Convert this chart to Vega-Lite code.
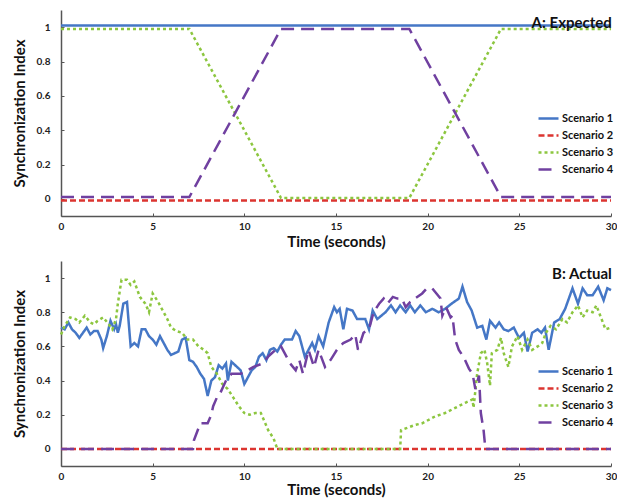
{
  "$schema": "https://vega.github.io/schema/vega-lite/v6.json",
  "padding": {"left": 12, "top": 10, "right": 0, "bottom": 0},
  "spacing": 12,
  "config": {
    "font": "Lato",
    "view": {"stroke": null},
    "axis": {
      "grid": false,
      "domainColor": "#555555",
      "domainWidth": 1.5,
      "tickColor": "#555555",
      "tickSize": -3,
      "labelFontSize": 10,
      "labelFontWeight": "bold",
      "labelColor": "#222222",
      "labelPadding": 8,
      "labelFlush": false,
      "format": "~g",
      "titleFontSize": 15,
      "titleFontWeight": "bold",
      "titleColor": "#111111"
    },
    "axisY": {"labelPadding": 14},
    "title": {"fontSize": 15, "fontWeight": "bold", "color": "#111111", "anchor": "end", "offset": -21, "dx": -5}
  },
  "datasets": {
    "a": [
      {"s": "Scenario 1", "t": 0, "v": 1.01}, {"s": "Scenario 1", "t": 30, "v": 1.01},
      {"s": "Scenario 2", "t": 0, "v": -0.01}, {"s": "Scenario 2", "t": 30, "v": -0.01},
      {"s": "Scenario 3", "t": 0, "v": 0.99}, {"s": "Scenario 3", "t": 7, "v": 0.99}, {"s": "Scenario 3", "t": 12, "v": 0.005}, {"s": "Scenario 3", "t": 19, "v": 0.005}, {"s": "Scenario 3", "t": 24, "v": 0.99}, {"s": "Scenario 3", "t": 30, "v": 0.99},
      {"s": "Scenario 4", "t": 0, "v": 0.01}, {"s": "Scenario 4", "t": 7, "v": 0.01}, {"s": "Scenario 4", "t": 12, "v": 0.99}, {"s": "Scenario 4", "t": 19, "v": 0.99}, {"s": "Scenario 4", "t": 24, "v": 0.01}, {"s": "Scenario 4", "t": 30, "v": 0.01}
    ],
    "b": [
      {"s":"Scenario 1","t":0,"v":0.71},{"s":"Scenario 1","t":0.2,"v":0.70},{"s":"Scenario 1","t":0.4,"v":0.74},{"s":"Scenario 1","t":0.6,"v":0.70},{"s":"Scenario 1","t":0.8,"v":0.68},{"s":"Scenario 1","t":1.0,"v":0.65},{"s":"Scenario 1","t":1.2,"v":0.68},{"s":"Scenario 1","t":1.4,"v":0.71},{"s":"Scenario 1","t":1.6,"v":0.67},{"s":"Scenario 1","t":1.8,"v":0.69},{"s":"Scenario 1","t":2.0,"v":0.69},{"s":"Scenario 1","t":2.2,"v":0.64},{"s":"Scenario 1","t":2.3,"v":0.59},{"s":"Scenario 1","t":2.5,"v":0.66},{"s":"Scenario 1","t":2.7,"v":0.75},{"s":"Scenario 1","t":2.9,"v":0.70},{"s":"Scenario 1","t":3.0,"v":0.73},{"s":"Scenario 1","t":3.1,"v":0.68},{"s":"Scenario 1","t":3.2,"v":0.72},{"s":"Scenario 1","t":3.4,"v":0.85},{"s":"Scenario 1","t":3.6,"v":0.86},{"s":"Scenario 1","t":3.8,"v":0.60},{"s":"Scenario 1","t":4.0,"v":0.62},{"s":"Scenario 1","t":4.2,"v":0.60},{"s":"Scenario 1","t":4.4,"v":0.70},{"s":"Scenario 1","t":4.6,"v":0.70},{"s":"Scenario 1","t":4.8,"v":0.66},{"s":"Scenario 1","t":5.0,"v":0.64},{"s":"Scenario 1","t":5.2,"v":0.61},{"s":"Scenario 1","t":5.4,"v":0.66},{"s":"Scenario 1","t":5.6,"v":0.62},{"s":"Scenario 1","t":5.8,"v":0.58},{"s":"Scenario 1","t":6.0,"v":0.55},{"s":"Scenario 1","t":6.2,"v":0.56},{"s":"Scenario 1","t":6.4,"v":0.57},{"s":"Scenario 1","t":6.6,"v":0.64},{"s":"Scenario 1","t":6.8,"v":0.65},{"s":"Scenario 1","t":7.0,"v":0.52},{"s":"Scenario 1","t":7.2,"v":0.51},{"s":"Scenario 1","t":7.4,"v":0.48},{"s":"Scenario 1","t":7.6,"v":0.44},{"s":"Scenario 1","t":7.8,"v":0.41},{"s":"Scenario 1","t":8.0,"v":0.31},{"s":"Scenario 1","t":8.2,"v":0.40},{"s":"Scenario 1","t":8.4,"v":0.42},{"s":"Scenario 1","t":8.6,"v":0.49},{"s":"Scenario 1","t":8.8,"v":0.47},{"s":"Scenario 1","t":9.0,"v":0.50},{"s":"Scenario 1","t":9.1,"v":0.40},{"s":"Scenario 1","t":9.3,"v":0.51},{"s":"Scenario 1","t":9.6,"v":0.48},{"s":"Scenario 1","t":9.8,"v":0.46},{"s":"Scenario 1","t":10.0,"v":0.38},{"s":"Scenario 1","t":10.2,"v":0.42},{"s":"Scenario 1","t":10.4,"v":0.46},{"s":"Scenario 1","t":10.6,"v":0.48},{"s":"Scenario 1","t":10.8,"v":0.54},{"s":"Scenario 1","t":11.0,"v":0.56},{"s":"Scenario 1","t":11.2,"v":0.52},{"s":"Scenario 1","t":11.4,"v":0.58},{"s":"Scenario 1","t":11.6,"v":0.59},{"s":"Scenario 1","t":11.8,"v":0.57},{"s":"Scenario 1","t":12.0,"v":0.61},{"s":"Scenario 1","t":12.2,"v":0.64},{"s":"Scenario 1","t":12.6,"v":0.64},{"s":"Scenario 1","t":12.8,"v":0.69},{"s":"Scenario 1","t":13.0,"v":0.66},{"s":"Scenario 1","t":13.3,"v":0.54},{"s":"Scenario 1","t":13.7,"v":0.62},{"s":"Scenario 1","t":13.85,"v":0.58},{"s":"Scenario 1","t":14.05,"v":0.66},{"s":"Scenario 1","t":14.3,"v":0.60},{"s":"Scenario 1","t":14.6,"v":0.74},{"s":"Scenario 1","t":14.9,"v":0.83},{"s":"Scenario 1","t":15.05,"v":0.80},{"s":"Scenario 1","t":15.2,"v":0.82},{"s":"Scenario 1","t":15.4,"v":0.70},{"s":"Scenario 1","t":15.6,"v":0.82},{"s":"Scenario 1","t":15.9,"v":0.81},{"s":"Scenario 1","t":16.15,"v":0.76},{"s":"Scenario 1","t":16.6,"v":0.76},{"s":"Scenario 1","t":16.8,"v":0.70},{"s":"Scenario 1","t":17.0,"v":0.81},{"s":"Scenario 1","t":17.25,"v":0.76},{"s":"Scenario 1","t":17.7,"v":0.80},{"s":"Scenario 1","t":18.0,"v":0.84},{"s":"Scenario 1","t":18.25,"v":0.80},{"s":"Scenario 1","t":18.5,"v":0.84},{"s":"Scenario 1","t":18.8,"v":0.80},{"s":"Scenario 1","t":19.05,"v":0.84},{"s":"Scenario 1","t":19.3,"v":0.80},{"s":"Scenario 1","t":19.6,"v":0.84},{"s":"Scenario 1","t":19.9,"v":0.80},{"s":"Scenario 1","t":20.25,"v":0.82},{"s":"Scenario 1","t":20.6,"v":0.80},{"s":"Scenario 1","t":20.95,"v":0.82},{"s":"Scenario 1","t":21.3,"v":0.85},{"s":"Scenario 1","t":21.7,"v":0.88},{"s":"Scenario 1","t":21.9,"v":0.95},{"s":"Scenario 1","t":22.15,"v":0.86},{"s":"Scenario 1","t":22.4,"v":0.81},{"s":"Scenario 1","t":22.7,"v":0.71},{"s":"Scenario 1","t":22.98,"v":0.72},{"s":"Scenario 1","t":23.2,"v":0.64},{"s":"Scenario 1","t":23.4,"v":0.75},{"s":"Scenario 1","t":23.7,"v":0.71},{"s":"Scenario 1","t":23.9,"v":0.74},{"s":"Scenario 1","t":24.15,"v":0.70},{"s":"Scenario 1","t":24.4,"v":0.69},{"s":"Scenario 1","t":24.7,"v":0.71},{"s":"Scenario 1","t":24.98,"v":0.65},{"s":"Scenario 1","t":25.25,"v":0.68},{"s":"Scenario 1","t":25.45,"v":0.57},{"s":"Scenario 1","t":25.7,"v":0.68},{"s":"Scenario 1","t":26.0,"v":0.70},{"s":"Scenario 1","t":26.2,"v":0.68},{"s":"Scenario 1","t":26.4,"v":0.71},{"s":"Scenario 1","t":26.6,"v":0.58},{"s":"Scenario 1","t":26.9,"v":0.74},{"s":"Scenario 1","t":27.2,"v":0.76},{"s":"Scenario 1","t":27.5,"v":0.82},{"s":"Scenario 1","t":27.9,"v":0.94},{"s":"Scenario 1","t":28.2,"v":0.85},{"s":"Scenario 1","t":28.45,"v":0.94},{"s":"Scenario 1","t":28.7,"v":0.90},{"s":"Scenario 1","t":29.0,"v":0.90},{"s":"Scenario 1","t":29.3,"v":0.95},{"s":"Scenario 1","t":29.6,"v":0.87},{"s":"Scenario 1","t":29.8,"v":0.94},{"s":"Scenario 1","t":30,"v":0.93},
      {"s":"Scenario 2","t":0,"v":0},{"s":"Scenario 2","t":30,"v":0},
      {"s":"Scenario 3","t":0,"v":0.67},{"s":"Scenario 3","t":0.2,"v":0.72},{"s":"Scenario 3","t":0.5,"v":0.77},{"s":"Scenario 3","t":0.8,"v":0.76},{"s":"Scenario 3","t":1.0,"v":0.74},{"s":"Scenario 3","t":1.3,"v":0.78},{"s":"Scenario 3","t":1.6,"v":0.74},{"s":"Scenario 3","t":1.8,"v":0.73},{"s":"Scenario 3","t":2.0,"v":0.75},{"s":"Scenario 3","t":2.3,"v":0.77},{"s":"Scenario 3","t":2.6,"v":0.73},{"s":"Scenario 3","t":2.8,"v":0.70},{"s":"Scenario 3","t":3.0,"v":0.76},{"s":"Scenario 3","t":3.1,"v":0.85},{"s":"Scenario 3","t":3.3,"v":0.99},{"s":"Scenario 3","t":3.6,"v":0.99},{"s":"Scenario 3","t":3.8,"v":0.96},{"s":"Scenario 3","t":4.0,"v":0.98},{"s":"Scenario 3","t":4.3,"v":0.89},{"s":"Scenario 3","t":4.6,"v":0.85},{"s":"Scenario 3","t":4.8,"v":0.80},{"s":"Scenario 3","t":5.0,"v":0.91},{"s":"Scenario 3","t":5.3,"v":0.86},{"s":"Scenario 3","t":5.6,"v":0.80},{"s":"Scenario 3","t":5.8,"v":0.76},{"s":"Scenario 3","t":6.0,"v":0.71},{"s":"Scenario 3","t":6.3,"v":0.69},{"s":"Scenario 3","t":6.6,"v":0.68},{"s":"Scenario 3","t":6.9,"v":0.64},{"s":"Scenario 3","t":7.2,"v":0.64},{"s":"Scenario 3","t":7.5,"v":0.60},{"s":"Scenario 3","t":7.8,"v":0.58},{"s":"Scenario 3","t":8.0,"v":0.56},{"s":"Scenario 3","t":8.2,"v":0.48},{"s":"Scenario 3","t":8.5,"v":0.44},{"s":"Scenario 3","t":8.8,"v":0.38},{"s":"Scenario 3","t":9.1,"v":0.35},{"s":"Scenario 3","t":9.4,"v":0.30},{"s":"Scenario 3","t":9.7,"v":0.25},{"s":"Scenario 3","t":10.0,"v":0.21},{"s":"Scenario 3","t":10.3,"v":0.20},{"s":"Scenario 3","t":10.6,"v":0.21},{"s":"Scenario 3","t":10.9,"v":0.21},{"s":"Scenario 3","t":11.1,"v":0.16},{"s":"Scenario 3","t":11.3,"v":0.11},{"s":"Scenario 3","t":11.6,"v":0.06},{"s":"Scenario 3","t":11.8,"v":0},{"s":"Scenario 3","t":18.5,"v":0},{"s":"Scenario 3","t":18.55,"v":0.11},{"s":"Scenario 3","t":18.8,"v":0.12},{"s":"Scenario 3","t":19.3,"v":0.14},{"s":"Scenario 3","t":19.7,"v":0.15},{"s":"Scenario 3","t":20.4,"v":0.19},{"s":"Scenario 3","t":20.95,"v":0.21},{"s":"Scenario 3","t":21.5,"v":0.24},{"s":"Scenario 3","t":22.05,"v":0.27},{"s":"Scenario 3","t":22.45,"v":0.29},{"s":"Scenario 3","t":22.5,"v":0.24},{"s":"Scenario 3","t":22.7,"v":0.44},{"s":"Scenario 3","t":22.9,"v":0.56},{"s":"Scenario 3","t":23.1,"v":0.58},{"s":"Scenario 3","t":23.25,"v":0.50},{"s":"Scenario 3","t":23.4,"v":0.37},{"s":"Scenario 3","t":23.5,"v":0.56},{"s":"Scenario 3","t":23.8,"v":0.58},{"s":"Scenario 3","t":24.0,"v":0.65},{"s":"Scenario 3","t":24.15,"v":0.56},{"s":"Scenario 3","t":24.4,"v":0.48},{"s":"Scenario 3","t":24.6,"v":0.60},{"s":"Scenario 3","t":24.9,"v":0.66},{"s":"Scenario 3","t":25.15,"v":0.58},{"s":"Scenario 3","t":25.45,"v":0.64},{"s":"Scenario 3","t":25.7,"v":0.58},{"s":"Scenario 3","t":26.0,"v":0.60},{"s":"Scenario 3","t":26.25,"v":0.62},{"s":"Scenario 3","t":26.45,"v":0.68},{"s":"Scenario 3","t":26.7,"v":0.72},{"s":"Scenario 3","t":27.0,"v":0.70},{"s":"Scenario 3","t":27.35,"v":0.76},{"s":"Scenario 3","t":27.6,"v":0.74},{"s":"Scenario 3","t":27.9,"v":0.80},{"s":"Scenario 3","t":28.2,"v":0.84},{"s":"Scenario 3","t":28.45,"v":0.77},{"s":"Scenario 3","t":28.7,"v":0.81},{"s":"Scenario 3","t":29.0,"v":0.80},{"s":"Scenario 3","t":29.2,"v":0.84},{"s":"Scenario 3","t":29.45,"v":0.77},{"s":"Scenario 3","t":29.7,"v":0.70},{"s":"Scenario 3","t":30,"v":0.71},
      {"s":"Scenario 4","t":0,"v":0},{"s":"Scenario 4","t":7.2,"v":0},{"s":"Scenario 4","t":7.25,"v":0.05},{"s":"Scenario 4","t":7.6,"v":0.15},{"s":"Scenario 4","t":8.0,"v":0.15},{"s":"Scenario 4","t":8.2,"v":0.20},{"s":"Scenario 4","t":8.3,"v":0.25},{"s":"Scenario 4","t":8.5,"v":0.30},{"s":"Scenario 4","t":8.7,"v":0.33},{"s":"Scenario 4","t":9.0,"v":0.40},{"s":"Scenario 4","t":9.3,"v":0.44},{"s":"Scenario 4","t":9.8,"v":0.44},{"s":"Scenario 4","t":10.0,"v":0.45},{"s":"Scenario 4","t":10.5,"v":0.48},{"s":"Scenario 4","t":11.0,"v":0.50},{"s":"Scenario 4","t":11.3,"v":0.54},{"s":"Scenario 4","t":11.6,"v":0.57},{"s":"Scenario 4","t":12.0,"v":0.60},{"s":"Scenario 4","t":12.5,"v":0.50},{"s":"Scenario 4","t":12.8,"v":0.46},{"s":"Scenario 4","t":13.0,"v":0.52},{"s":"Scenario 4","t":13.2,"v":0.44},{"s":"Scenario 4","t":13.5,"v":0.58},{"s":"Scenario 4","t":13.8,"v":0.48},{"s":"Scenario 4","t":14.05,"v":0.58},{"s":"Scenario 4","t":14.4,"v":0.48},{"s":"Scenario 4","t":14.7,"v":0.52},{"s":"Scenario 4","t":15.05,"v":0.58},{"s":"Scenario 4","t":15.4,"v":0.62},{"s":"Scenario 4","t":15.8,"v":0.64},{"s":"Scenario 4","t":16.05,"v":0.67},{"s":"Scenario 4","t":16.2,"v":0.58},{"s":"Scenario 4","t":16.5,"v":0.68},{"s":"Scenario 4","t":16.8,"v":0.70},{"s":"Scenario 4","t":17.05,"v":0.80},{"s":"Scenario 4","t":17.35,"v":0.85},{"s":"Scenario 4","t":17.6,"v":0.88},{"s":"Scenario 4","t":17.8,"v":0.85},{"s":"Scenario 4","t":18.1,"v":0.89},{"s":"Scenario 4","t":18.35,"v":0.88},{"s":"Scenario 4","t":18.6,"v":0.88},{"s":"Scenario 4","t":18.8,"v":0.83},{"s":"Scenario 4","t":19.05,"v":0.86},{"s":"Scenario 4","t":19.3,"v":0.88},{"s":"Scenario 4","t":19.7,"v":0.91},{"s":"Scenario 4","t":19.95,"v":0.94},{"s":"Scenario 4","t":20.25,"v":0.94},{"s":"Scenario 4","t":20.4,"v":0.92},{"s":"Scenario 4","t":20.7,"v":0.88},{"s":"Scenario 4","t":20.8,"v":0.78},{"s":"Scenario 4","t":21.0,"v":0.83},{"s":"Scenario 4","t":21.25,"v":0.77},{"s":"Scenario 4","t":21.35,"v":0.78},{"s":"Scenario 4","t":21.5,"v":0.64},{"s":"Scenario 4","t":21.7,"v":0.58},{"s":"Scenario 4","t":22.0,"v":0.53},{"s":"Scenario 4","t":22.25,"v":0.47},{"s":"Scenario 4","t":22.45,"v":0.44},{"s":"Scenario 4","t":22.6,"v":0.35},{"s":"Scenario 4","t":22.8,"v":0.43},{"s":"Scenario 4","t":22.9,"v":0.21},{"s":"Scenario 4","t":23.05,"v":0.11},{"s":"Scenario 4","t":23.15,"v":0},{"s":"Scenario 4","t":30,"v":0}
    ]
  },
  "vconcat": [
    {
      "width": 550,
      "height": 206,
      "data": {"name": "a"},
      "title": {"text": "A: Expected"},
      "mark": {"type": "line", "strokeWidth": 2.5, "strokeCap": "butt"},
      "encoding": {
        "x": {"field": "t", "type": "quantitative", "scale": {"domain": [0, 30], "nice": false}, "axis": {"values": [0, 5, 10, 15, 20, 25, 30], "title": "Time (seconds)", "titlePadding": 3}},
        "y": {"field": "v", "type": "quantitative", "scale": {"domain": [-0.1, 1.1], "nice": false}, "axis": {"values": [0, 0.2, 0.4, 0.6, 0.8, 1], "title": "Synchronization Index", "titlePadding": 9}},
        "color": {"field": "s", "type": "nominal", "scale": {"domain": ["Scenario 1", "Scenario 2", "Scenario 3", "Scenario 4"], "range": ["#4577c6", "#dc3530", "#8cc63f", "#7040a0"]},
          "legend": {"title": null, "orient": "none", "legendX": 476, "legendY": 97, "symbolType": "stroke", "symbolSize": 400, "symbolStrokeWidth": 2.5, "labelFontSize": 11, "labelFontWeight": "bold", "labelColor": "#111111", "labelOffset": 2, "rowPadding": -7.5}},
        "strokeDash": {"field": "s", "type": "nominal", "scale": {"domain": ["Scenario 1", "Scenario 2", "Scenario 3", "Scenario 4"], "range": [[1, 0], [6, 3], [3, 3], [13, 7]]},
          "legend": {"title": null, "orient": "none", "legendX": 476, "legendY": 97, "symbolType": "stroke", "symbolSize": 400, "symbolStrokeWidth": 2.5, "labelFontSize": 11, "labelFontWeight": "bold", "labelColor": "#111111", "labelOffset": 2, "rowPadding": -7.5}}
      }
    },
    {
      "width": 550,
      "height": 205,
      "data": {"name": "b"},
      "title": {"text": "B: Actual"},
      "mark": {"type": "line", "strokeWidth": 2.5, "strokeCap": "butt"},
      "encoding": {
        "x": {"field": "t", "type": "quantitative", "scale": {"domain": [0, 30], "nice": false}, "axis": {"values": [0, 5, 10, 15, 20, 25, 30], "title": "Time (seconds)", "titlePadding": 1.5}},
        "y": {"field": "v", "type": "quantitative", "scale": {"domain": [-0.1, 1.1], "nice": false}, "axis": {"values": [0, 0.2, 0.4, 0.6, 0.8, 1], "title": "Synchronization Index", "titlePadding": 9}},
        "color": {"field": "s", "type": "nominal", "scale": {"domain": ["Scenario 1", "Scenario 2", "Scenario 3", "Scenario 4"], "range": ["#4577c6", "#dc3530", "#8cc63f", "#7040a0"]},
          "legend": {"title": null, "orient": "none", "legendX": 476, "legendY": 99, "symbolType": "stroke", "symbolSize": 400, "symbolStrokeWidth": 2.5, "labelFontSize": 11, "labelFontWeight": "bold", "labelColor": "#111111", "labelOffset": 2, "rowPadding": -7.5}},
        "strokeDash": {"field": "s", "type": "nominal", "scale": {"domain": ["Scenario 1", "Scenario 2", "Scenario 3", "Scenario 4"], "range": [[1, 0], [6, 3], [3, 3], [13, 7]]},
          "legend": {"title": null, "orient": "none", "legendX": 476, "legendY": 99, "symbolType": "stroke", "symbolSize": 400, "symbolStrokeWidth": 2.5, "labelFontSize": 11, "labelFontWeight": "bold", "labelColor": "#111111", "labelOffset": 2, "rowPadding": -7.5}}
      }
    }
  ],
  "resolve": {"scale": {"color": "independent", "strokeDash": "independent"}, "legend": {"color": "independent", "strokeDash": "independent"}}
}
